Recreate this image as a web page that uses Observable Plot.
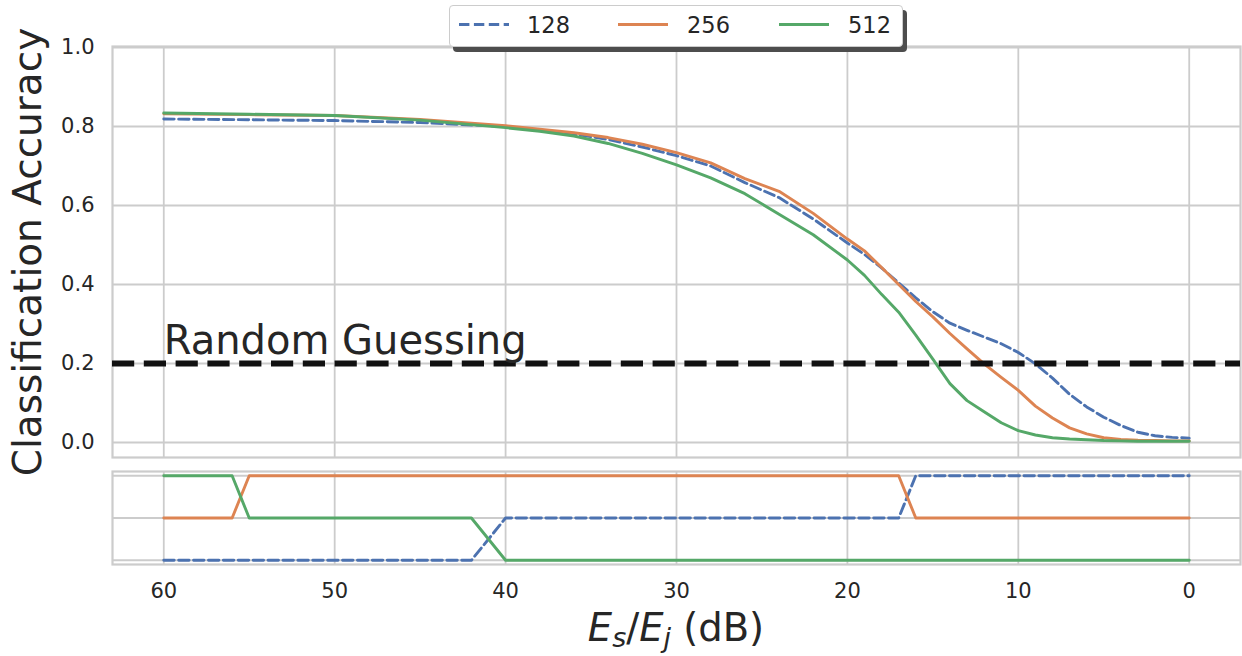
<!DOCTYPE html>
<html>
<head>
<meta charset="utf-8">
<script src="https://cdn.jsdelivr.net/npm/d3@7"></script>
<script src="https://cdn.jsdelivr.net/npm/@observablehq/plot@0.6"></script>
<style>
  html, body { margin: 0; padding: 0; background: #fff; }
  #wrap { position: relative; width: 1242px; height: 656px; background: #fff; font-family: "DejaVu Sans", sans-serif; color: #262626; overflow: hidden; }
  #main, #rank { position: absolute; left: 0; }
  #main { top: 0; }
  #rank { top: 462px; }
  #legend { position: absolute; left: 449px; top: 5px; width: 454px; height: 42px; box-sizing: border-box;
            border: 1px solid #cccccc; border-radius: 4px; background: #fff; box-shadow: 4px 5px 0 #4d4d4d; }
  #legend svg { position: absolute; top: 0; }
  #legend span { position: absolute; top: 0; line-height: 38px; font-size: 22.5px; color: #262626; white-space: nowrap; }
  #ylabel { position: absolute; width: 600px; height: 46px; line-height: 46px; font-size: 39px; text-align: center;
            left: -272px; top: 229px; transform: rotate(-90deg); transform-origin: 50% 50%; white-space: nowrap; }
  #xlabel { position: absolute; left: 376px; width: 600px; top: 606px; height: 44px; line-height: 44px; font-size: 38.5px; text-align: center; white-space: nowrap; }
  #xlabel i { font-style: italic; }
  #xlabel .sub { font-size: 0.7em; font-style: italic; position: relative; top: 0.24em; }
</style>
</head>
<body>
<div id="wrap">
  <div id="main"></div>
  <div id="rank"></div>
  <div id="legend"></div>
  <div id="ylabel">Classification Accuracy</div>
  <div id="xlabel"><i>E</i><span class="sub">s</span>/<i>E</i><span class="sub">j</span> (dB)</div>
</div>
<script>
// ---- data ----
const snr = [60,55,50,45,40,38,36,34,32,30,28,26,24,22,20,19,18,17,16,15,14,13,12,11,10,9,8,7,6,5,4,3,2,1,0];
const acc128 = [0.819,0.817,0.815,0.810,0.800,0.790,0.781,0.767,0.748,0.726,0.700,0.658,0.620,0.566,0.505,0.476,0.442,0.404,0.366,0.331,0.302,0.284,0.267,0.250,0.228,0.199,0.163,0.122,0.090,0.064,0.043,0.026,0.017,0.013,0.011];
const acc256 = [0.832,0.830,0.828,0.818,0.802,0.793,0.784,0.772,0.755,0.734,0.708,0.668,0.636,0.580,0.515,0.485,0.443,0.400,0.357,0.318,0.276,0.237,0.199,0.165,0.132,0.092,0.062,0.037,0.022,0.012,0.008,0.006,0.005,0.004,0.004];
const acc512 = [0.834,0.831,0.828,0.816,0.797,0.788,0.776,0.757,0.732,0.703,0.670,0.630,0.578,0.526,0.462,0.423,0.375,0.330,0.272,0.211,0.149,0.106,0.078,0.050,0.030,0.019,0.012,0.009,0.007,0.005,0.004,0.003,0.003,0.003,0.003];

const rankSnr = [60,56,55,42,40,17,16,0];
const rank128 = [3,3,3,3,2,2,1,1];
const rank256 = [2,2,1,1,1,1,2,2];
const rank512 = [1,1,2,2,3,3,3,3];

const seriesNames = ["128","256","512"];
const xTicks = [60,50,40,30,20,10,0];
const yTicks = [0,0.2,0.4,0.6,0.8,1.0];
const rankTicks = [1,2,3];
const randomGuess = 0.2;
const randomLabel = "Random Guessing";

// ---- styles ----
const colors = {"128": "#4C72B0", "256": "#DD8452", "512": "#55A868"};
const dashes = {"128": "10.4,4.5", "256": null, "512": null};
const lw = 2.9;
const gridStyle = {stroke: "#cccccc", strokeOpacity: 1, strokeWidth: 1.8};
const accBy = {"128": acc128, "256": acc256, "512": acc512};
const rankBy = {"128": rank128, "256": rank256, "512": rank512};

const baseStyle = {fontFamily: "DejaVu Sans", fontSize: "21px", color: "#262626", background: "transparent", overflow: "visible"};

const lineMarks = seriesNames.map(k => Plot.line(snr, {
  x: d => d, y: (d, i) => accBy[k][i],
  stroke: colors[k], strokeWidth: lw, strokeDasharray: dashes[k] || undefined
}));

const mainPlot = Plot.plot({
  width: 1242, height: 462,
  marginLeft: 112, marginRight: 2, marginTop: 46, marginBottom: 5,
  x: {domain: [63, -3], axis: null},
  y: {domain: [-0.038, 1.0025], axis: null},
  style: baseStyle,
  marks: [
    Plot.gridX(xTicks, gridStyle),
    Plot.gridY(yTicks, gridStyle),
    Plot.frame({stroke: "#cccccc", strokeWidth: 2.2}),
    Plot.axisY(yTicks, {tickSize: 0, tickPadding: 18, tickFormat: d3.format(".1f"), label: null, fill: "#262626"}),
    ...lineMarks,
    Plot.ruleY([randomGuess], {stroke: "#111111", strokeWidth: 6, strokeDasharray: "22.2,9.6"}),
    Plot.text([randomLabel], {x: () => 60, y: () => randomGuess + 0.025, text: d => d, textAnchor: "start", lineAnchor: "bottom", fontSize: 40, fill: "#262626"})
  ]
});
document.getElementById("main").appendChild(mainPlot);

const rankMarks = seriesNames.map(k => Plot.line(rankSnr, {
  x: d => d, y: (d, i) => rankBy[k][i],
  stroke: colors[k], strokeWidth: lw, strokeDasharray: dashes[k] || undefined
}));

const rankPlot = Plot.plot({
  width: 1242, height: 194,
  marginLeft: 112, marginRight: 2, marginTop: 9, marginBottom: 92,
  x: {domain: [63, -3], axis: null},
  y: {domain: [3.1, 0.9], axis: null},
  style: baseStyle,
  marks: [
    Plot.gridX(xTicks, gridStyle),
    Plot.gridY(rankTicks, gridStyle),
    Plot.frame({stroke: "#cccccc", strokeWidth: 2.2}),
    Plot.axisX(xTicks, {tickSize: 0, tickPadding: 19, label: null, tickFormat: d => String(d), fill: "#262626"}),
    ...rankMarks
  ]
});
document.getElementById("rank").appendChild(rankPlot);

// ---- legend ----
const legend = document.getElementById("legend");
const legendPos = [{line: 9, text: 77}, {line: 168, text: 237}, {line: 329, text: 398}];
seriesNames.forEach((k, i) => {
  const svgNS = "http://www.w3.org/2000/svg";
  const s = document.createElementNS(svgNS, "svg");
  s.setAttribute("width", 50); s.setAttribute("height", 38);
  s.style.left = legendPos[i].line + "px";
  const l = document.createElementNS(svgNS, "line");
  l.setAttribute("x1", 0); l.setAttribute("x2", 50); l.setAttribute("y1", 18.5); l.setAttribute("y2", 18.5);
  l.setAttribute("stroke", colors[k]); l.setAttribute("stroke-width", lw);
  if (dashes[k]) l.setAttribute("stroke-dasharray", dashes[k]);
  s.appendChild(l);
  legend.appendChild(s);
  const t = document.createElement("span");
  t.textContent = k;
  t.style.left = legendPos[i].text + "px";
  legend.appendChild(t);
});
</script>
</body>
</html>
